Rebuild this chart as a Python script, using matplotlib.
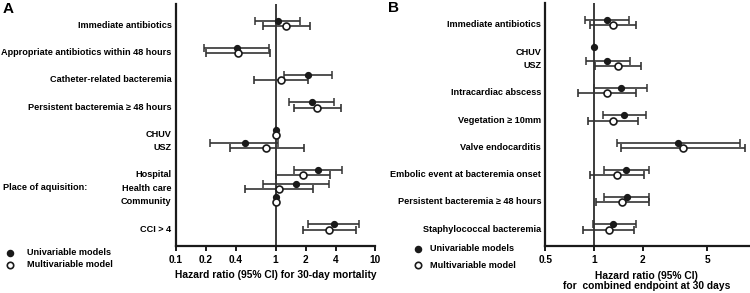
import numpy as np
import matplotlib
matplotlib.use("Agg")
import matplotlib.pyplot as plt
from matplotlib.lines import Line2D

plt.rcParams['font.family'] = ['Liberation Sans', 'DejaVu Sans']
plt.rcParams['font.weight'] = 'bold'

# ---------------- Panel A data: 30-day mortality ----------------
a_groups = [
    ["Immediate antibiotics"],
    ["Appropriate antibiotics within 48 hours"],
    ["Catheter-related bacteremia"],
    ["Persistent bacteremia \u2265 48 hours"],
    ["CHUV", "USZ"],
    ["Hospital", "Health care", "Community"],
    ["CCI > 4"],
]
a_uni_hr = [1.06, 0.41, 2.13, 2.30, 1.00, 0.49, 2.67, 1.60, 1.00, 3.85]
a_uni_lo = [0.63, 0.19, 1.22, 1.36, 1.00, 0.22, 1.53, 0.75, 1.00, 2.14]
a_uni_hi = [1.77, 0.86, 3.68, 3.88, 1.00, 1.07, 4.64, 3.46, 1.00, 6.92]
a_mul_hr = [1.28, 0.42, 1.13, 2.62, 1.00, 0.81, 1.87, 1.08, 1.00, 3.46]
a_mul_lo = [0.75, 0.20, 0.61, 1.52, 1.00, 0.35, 1.00, 0.50, 1.00, 1.87]
a_mul_hi = [2.23, 0.88, 2.14, 4.53, 1.00, 1.91, 3.54, 2.36, 1.00, 6.46]
a_ticks = [0.1, 0.2, 0.4, 1, 2, 4, 10]
a_tick_labels = ["0.1", "0.2", "0.4", "1", "2", "4", "10"]

# ---------------- Panel B data: combined endpoint ----------------
b_groups = [
    ["Immediate antibiotics"],
    ["CHUV", "USZ"],
    ["Intracardiac abscess"],
    ["Vegetation \u2265 10mm"],
    ["Valve endocarditis"],
    ["Embolic event at bacteremia onset"],
    ["Persistent bacteremia \u2265 48 hours"],
    ["Staphylococcal bacteremia"],
]
b_uni_hr = [1.20, 1.00, 1.21, 1.46, 1.54, 3.32, 1.58, 1.59, 1.32]
b_uni_lo = [0.875, 1.00, 0.89, 1.00, 1.13, 1.39, 1.15, 1.16, 0.98]
b_uni_hi = [1.65, 1.00, 1.66, 2.13, 2.11, 8.03, 2.18, 2.19, 1.81]
b_mul_hr = [1.31, np.nan, 1.41, 1.21, 1.31, 3.55, 1.39, 1.50, 1.23]
b_mul_lo = [0.94, np.nan, 1.01, 0.80, 0.92, 1.46, 0.95, 1.03, 0.855]
b_mul_hi = [1.82, np.nan, 1.94, 1.81, 1.88, 8.62, 2.04, 2.19, 1.77]
b_ticks = [0.5, 1, 2, 5]
b_tick_labels = ["0.5", "1", "2", "5"]


def positions(groups):
    pos, labels, y = [], [], 0
    for gi, g in enumerate(groups):
        if gi > 0:
            y += 2
        for j, lab in enumerate(g):
            if j > 0:
                y += 1
            pos.append(y)
            labels.append(lab)
    return np.array(pos, dtype=float), labels


W, H = 750, 293
fig = plt.figure(figsize=(7.5, 2.93), dpi=100)


def px_axes(x0, x1, ytop, ybot):
    return fig.add_axes([x0 / W, 1 - ybot / H, (x1 - x0) / W, (ybot - ytop) / H])


FS = 6.55      # category labels
FSL = 6.6      # legend
FST = 7.3      # axis titles / ticks
col = '#1a1a1a'


def draw_panel(ax, groups, uh, ul, uu, mh, ml, mu, xlim, ticks, tlabels):
    pos, labels = positions(groups)
    off = 0.19
    uh, ul, uu = map(np.array, (uh, ul, uu))
    mh, ml, mu = map(np.array, (mh, ml, mu))
    ax.axvline(1, color=col, lw=1.2, zorder=1)
    ax.errorbar(uh, pos - off, xerr=[uh - ul, uu - uh], fmt='o', ms=4.2,
                mfc=col, mec=col, ecolor='#333333', elinewidth=1.2,
                capsize=2.6, capthick=1.1, zorder=3)
    ax.errorbar(mh, pos + off, xerr=[mh - ml, mu - mh], fmt='o', ms=5,
                mfc='white', mec=col, mew=1.2, ecolor='#333333',
                elinewidth=1.2, capsize=2.6, capthick=1.1, zorder=3)
    ax.set_xscale('log')
    ax.set_xlim(*xlim)
    ax.set_ylim(16.4, -1.45)
    ax.set_xticks(ticks)
    ax.set_xticklabels(tlabels, fontsize=FST, fontweight='bold')
    ax.xaxis.set_minor_locator(matplotlib.ticker.NullLocator())
    ax.set_yticks(pos + 0.08)
    ax.set_yticklabels(labels, fontsize=FS, fontweight='bold')
    ax.tick_params(axis='y', length=0, pad=3)
    ax.tick_params(axis='x', length=3.5, width=1.4, pad=3, color=col)
    for s in ['top', 'right']:
        ax.spines[s].set_visible(False)
    for s in ['left', 'bottom']:
        ax.spines[s].set_linewidth(1.6)
        ax.spines[s].set_color(col)
    ax.patch.set_alpha(0)
    return pos


axA = px_axes(175.7, 375.3, 4, 246)
draw_panel(axA, a_groups, a_uni_hr, a_uni_lo, a_uni_hi,
           a_mul_hr, a_mul_lo, a_mul_hi, (0.1, 10), a_ticks, a_tick_labels)

axB = px_axes(545.3, 750, 3, 246)
draw_panel(axB, b_groups, b_uni_hr, b_uni_lo, b_uni_hi,
           b_mul_hr, b_mul_lo, b_mul_hi, (0.5, 9.22), b_ticks, b_tick_labels)


def ftext(x, y, s, **kw):
    fig.text(x / W, 1 - y / H, s, **kw)


def fmark(x, y, filled):
    fig.add_artist(Line2D([x / W], [1 - y / H], marker='o',
                          ms=4.2 if filled else 4.6,
                          mfc=col if filled else 'white', mec=col,
                          mew=1.2, ls='none', transform=fig.transFigure))


ftext(3, 9, "A", fontsize=11, fontweight='bold', va='center', ha='left')
ftext(388, 8, "B", fontsize=11, fontweight='bold', va='center', ha='left')
ftext(3, 187, "Place of aquisition:", fontsize=FS, fontweight='bold',
      va='center', ha='left')

# legends
fmark(10, 252.7, True)
ftext(26.7, 252.7, "Univariable models", fontsize=FSL, fontweight='bold', va='center')
fmark(10, 264.5, False)
ftext(26.7, 264.5, "Multivariable model", fontsize=FSL, fontweight='bold', va='center')

fmark(418.3, 248.7, True)
ftext(430.3, 248.7, "Univariable models", fontsize=FSL, fontweight='bold', va='center')
fmark(418.3, 265, False)
ftext(430.3, 265, "Multivariable model", fontsize=FSL, fontweight='bold', va='center')

# axis titles
ftext(275.5, 275.5, "Hazard ratio (95% CI) for 30-day mortality",
      fontsize=FST + 0.1, fontweight='bold', ha='center', va='center')
ftext(646.7, 281.2, "Hazard ratio (95% CI)\nfor  combined endpoint at 30 days",
      fontsize=FST + 0.1, fontweight='bold', ha='center', va='center',
      linespacing=1.05)

fig.savefig("out.png", dpi=100)
